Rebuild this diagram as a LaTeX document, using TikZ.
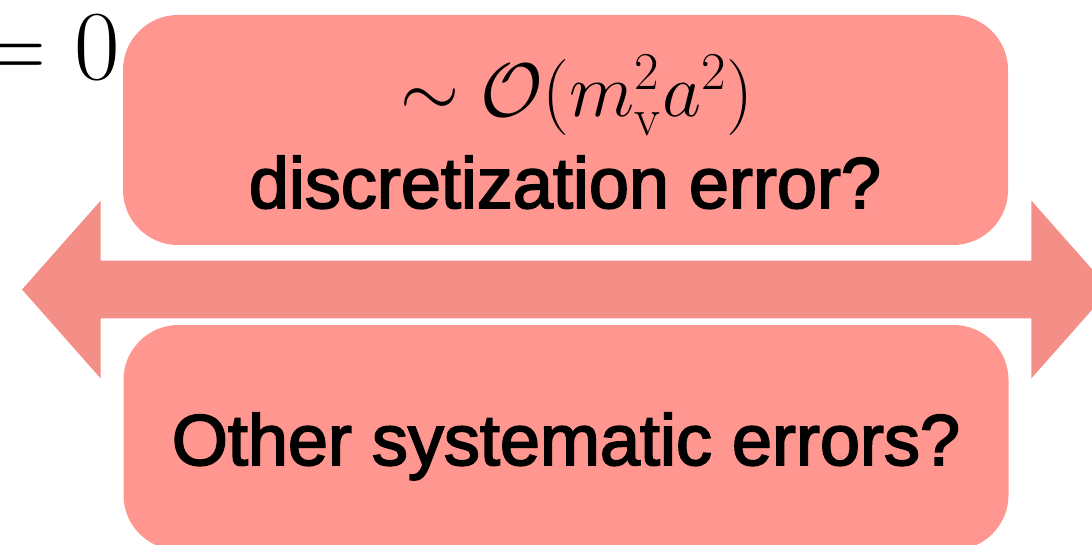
\RequirePackage{fix-cm}
\documentclass[tikz,border=0pt]{standalone}
\usepackage[no-math]{fontspec}
\newfontfamily\sysfont{Liberation Sans}[FakeBold=2.5]
\usetikzlibrary{shapes.arrows}
\definecolor{sysBox}{HTML}{FF968F}
\definecolor{sysArrow}{HTML}{F48F87}
\tikzset{
  sysbox/.style={fill=sysBox,rounded corners=27.5pt,minimum width=442.5pt,inner sep=0pt},
  sysarrow/.style={double arrow,fill=sysArrow,inner xsep=0pt,inner ysep=14.25pt,
                   text height=0pt,text depth=0pt,minimum width=0pt,minimum height=544pt,
                   double arrow head extend=30pt,double arrow tip angle=97},
  systxt/.style={font=\sysfont\fontsize{36}{40}\selectfont,anchor=base,inner sep=0pt},
  sysmath/.style={font=\fontsize{38}{42}\selectfont,anchor=base,inner sep=0pt},
}

\begin{document}
\begin{tikzpicture}[x=0.5pt,y=-0.5pt]
  \path[use as bounding box,clip] (0,0) rectangle (1092,545);
  \node[sysarrow] (band) at (566,289.5) {};
  \node[sysbox,minimum height=115pt] (disc) at (565.5,130) {};
  \node[sysbox,minimum height=112.5pt] (other) at (566,437.5) {};

  \node[sysmath] (order) at (577,117) {$\sim\mathcal{O}(m_{\mathrm{v}}^2a^2)$};
  \node[systxt] (disclbl) at (565,208) {discretization error?};
  \node[systxt] (otherlbl) at (566,465) {Other systematic errors?};
  \node[sysmath,font=\fontsize{49.5}{50}\selectfont,anchor=base east] (zero) at (120,80) {$=0$};
\end{tikzpicture}
\end{document}
